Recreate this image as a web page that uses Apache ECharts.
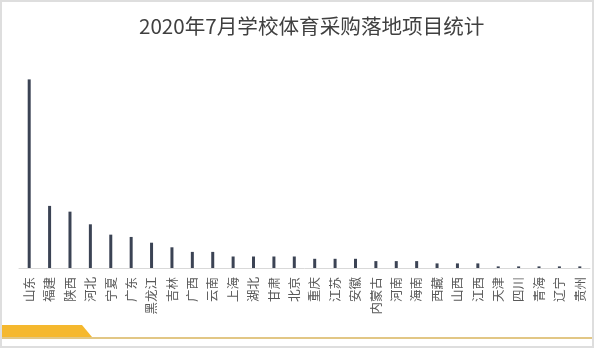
<!DOCTYPE html>
<html>
<head>
<meta charset="utf-8">
<script src="https://cdn.jsdelivr.net/npm/echarts@6/dist/echarts.min.js"></script>
<style>html,body{margin:0;padding:0;background:#fff;}#c{width:600px;height:358px;}</style>
</head>
<body>
<div id="c"></div>
<script>
var titleText = '2020年7月学校体育采购落地项目统计';
var categories = ['山东','福建','陕西','河北','宁夏','广东','黑龙江','吉林','广西','云南','上海','湖北','甘肃','北京','重庆','江苏','安徽','内蒙古','河南','海南','西藏','山西','江西','天津','四川','青海','辽宁','贵州'];
var values = [82,27,24.5,19,14.5,13.5,11,9,7,7,5,5,5,5,4,4,4,3,3,3,2,2,2,0.7,0.7,0.7,0.7,0.7];

var chart = echarts.init(document.getElementById('c'), null, {renderer:'canvas'});
chart.setOption({
  backgroundColor:'#ffffff',
  animation:false,
  title:{
    text:titleText, left:134, top:11,
    textStyle:{fontFamily:'Noto Sans CJK SC', fontSize:20.6, fontWeight:'normal', color:'#404040'}
  },
  grid:{left:19, right:10, top:61, bottom:90, containLabel:false},
  xAxis:{
    type:'category', data:categories,
    axisLine:{lineStyle:{color:'#d9d9d9', width:1}},
    axisTick:{show:false},
    axisLabel:{
      interval:0, rotate:90, margin:9, color:'#595959', fontSize:12.5,
      fontFamily:'Noto Sans CJK SC'
    }
  },
  yAxis:{
    type:'value', min:0, max:90, show:false, splitLine:{show:false}
  },
  series:[{
    type:'bar', data:values, barWidth:3,
    itemStyle:{color:'#3b4354'}
  }],
  graphic:[
    {type:'rect', shape:{x:1, y:1, width:592, height:346}, style:{fill:'none', stroke:'#dedede', lineWidth:2}, z:-1},
    {type:'polygon', shape:{points:[[2,325],[82,325],[92,337],[2,337]]}, style:{fill:'#F5B82E'}},
    {type:'line', shape:{x1:2, y1:338, x2:592, y2:338}, style:{stroke:'#D8B45C', lineWidth:1.5}}
  ]
});
</script>
</body>
</html>
